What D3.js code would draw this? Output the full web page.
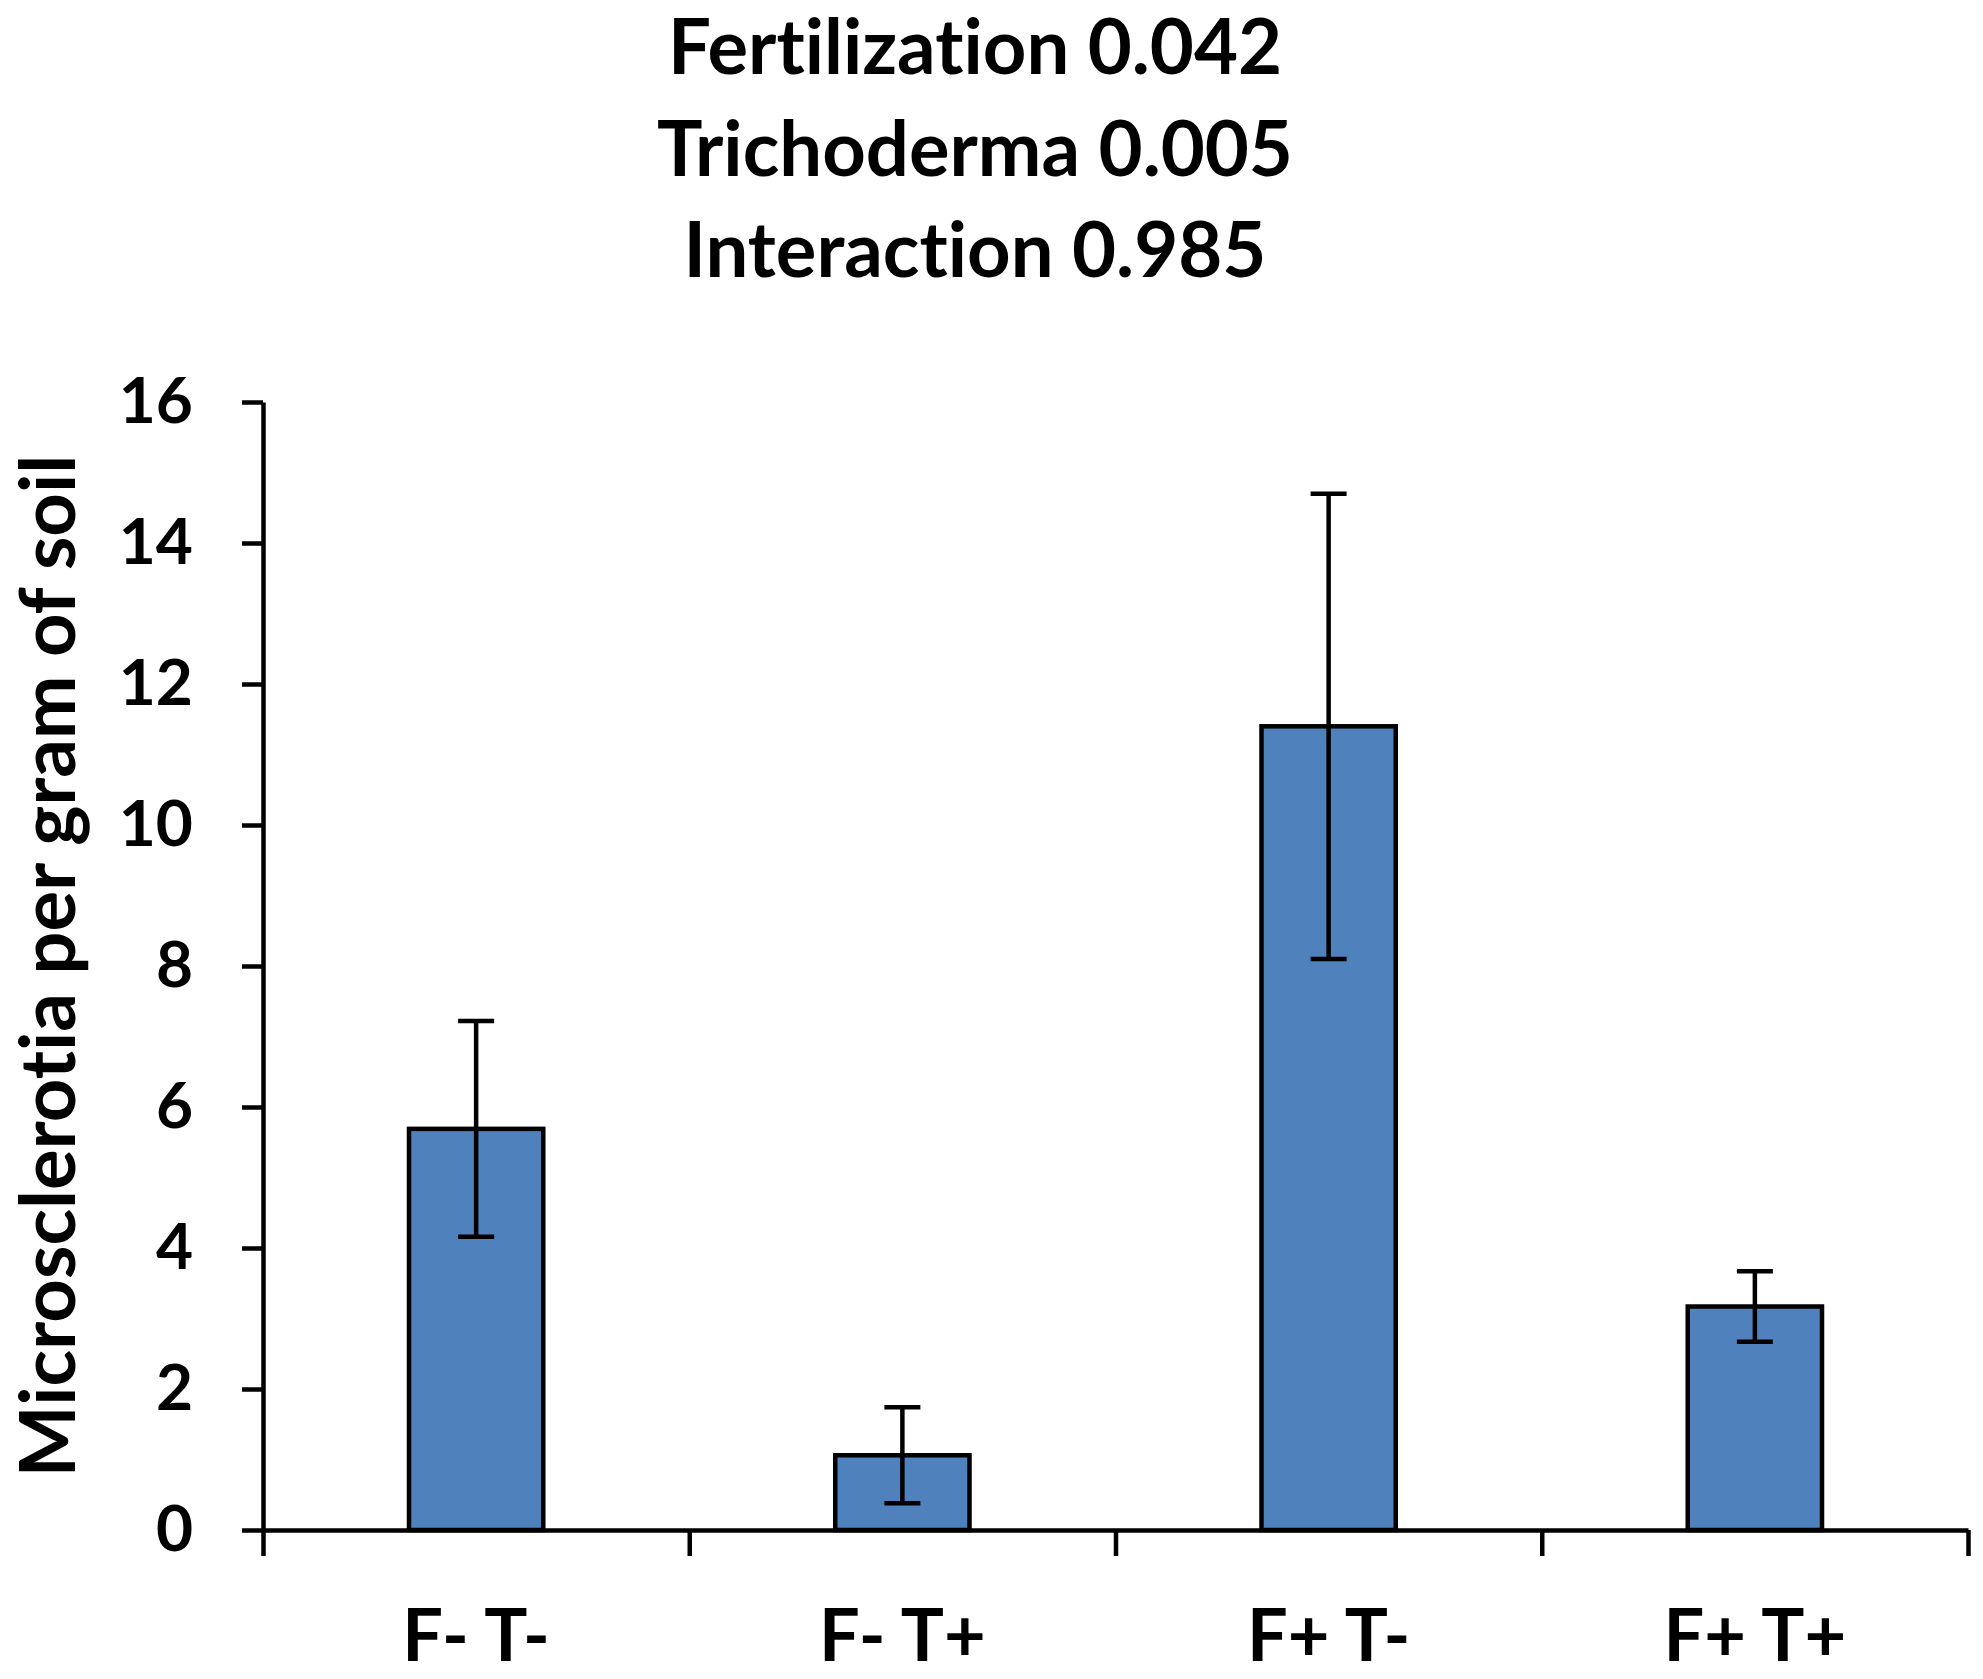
<!DOCTYPE html>
<html>
<head>
<meta charset="UTF-8">
<title>Microsclerotia per gram of soil</title>
<style>
    body { margin: 0; background: #fff; }
    text { font-family: Lato, "Open Sans", sans-serif; font-weight: bold; fill: #000; font-variant-ligatures: none; }
    .axis path, .axis line { stroke: #000; stroke-width: 4.5px; }
    .bar { fill: #4f81bd; stroke: #000; stroke-width: 4.5px; }
    .err { stroke: #000; stroke-width: 4.5px; fill: none; }
</style>
</head>
<body>
<svg width="1983" height="1679"></svg>
<script src="https://cdn.jsdelivr.net/npm/d3@7"></script>
<script>
    // data
    var categories = ["F- T-", "F- T+", "F+ T-", "F+ T+"];
    var means = [5.69, 1.06, 11.4, 3.17];
    var errors = [1.53, 0.68, 3.3, 0.5];
    var yTicks = [0, 2, 4, 6, 8, 10, 12, 14, 16];
    var titleLines = ["Fertilization 0.042", "Trichoderma 0.005", "Interaction 0.985"];
    var yLabel = "Microsclerotia per gram of soil";

    var svg = d3.select("svg");
    var plot = {left: 263, right: 1968, top: 402, bottom: 1530};

    var y = d3.scaleLinear().domain([0, 16]).range([plot.bottom, plot.top]);
    var x = d3.scaleBand().domain(categories).range([plot.left, plot.right]).padding(0);
    // edges of the categories, for the tick marks between them
    var xEdge = d3.scaleLinear().domain([0, categories.length]).range([plot.left, plot.right]);
    var barW = x.bandwidth() * 0.315;

    // title
    svg.append("g").selectAll("text")
        .data(titleLines)
        .enter().append("text")
        .attr("x", 975)
        .attr("y", function (d, i) { return 74 + i * 101.5; })
        .attr("text-anchor", "middle")
        .style("font-size", "76px")
        .text(function (d) { return d; });

    // bars
    svg.append("g").selectAll("rect")
        .data(means)
        .enter().append("rect")
        .attr("class", "bar")
        .attr("x", function (d, i) { return x(categories[i]) + x.bandwidth() / 2 - barW / 2; })
        .attr("y", function (d) { return y(d); })
        .attr("width", barW)
        .attr("height", function (d) { return y(0) - y(d); });

    // error bars
    var eg = svg.append("g").selectAll("g")
        .data(means)
        .enter().append("g")
        .attr("class", "err");
    var cx = function (d, i) { return x(categories[i]) + x.bandwidth() / 2; };
    eg.append("line")
        .attr("x1", cx).attr("x2", cx)
        .attr("y1", function (d, i) { return y(d + errors[i]); })
        .attr("y2", function (d, i) { return y(d - errors[i]); });
    eg.append("line")
        .attr("x1", function (d, i) { return cx(d, i) - 18; })
        .attr("x2", function (d, i) { return cx(d, i) + 18; })
        .attr("y1", function (d, i) { return y(d + errors[i]); })
        .attr("y2", function (d, i) { return y(d + errors[i]); });
    eg.append("line")
        .attr("x1", function (d, i) { return cx(d, i) - 18; })
        .attr("x2", function (d, i) { return cx(d, i) + 18; })
        .attr("y1", function (d, i) { return y(d - errors[i]); })
        .attr("y2", function (d, i) { return y(d - errors[i]); });

    // y axis
    var gy = svg.append("g")
        .attr("class", "axis")
        .attr("transform", "translate(" + plot.left + ",0)")
        .call(d3.axisLeft(y).tickValues(yTicks).tickSize(21).tickSizeOuter(0).tickPadding(49));
    gy.selectAll("text").style("font-size", "64px");

    // x axis: tick marks between categories
    svg.append("g")
        .attr("class", "axis")
        .attr("transform", "translate(0," + plot.bottom + ")")
        .call(d3.axisBottom(xEdge).tickValues(d3.range(categories.length + 1)).tickSize(26).tickSizeOuter(0).tickFormat(""));

    // x axis: category labels
    var gx = svg.append("g")
        .attr("class", "axis")
        .attr("transform", "translate(0," + plot.bottom + ")")
        .call(d3.axisBottom(x).tickSize(0));
    gx.select(".domain").remove();
    gx.selectAll("text")
        .attr("y", 131)
        .attr("dy", 0)
        .style("font-size", "72px");

    // y axis title
    svg.append("text")
        .attr("transform", "translate(75," + (plot.top + plot.bottom) / 2 + ") rotate(-90)")
        .attr("text-anchor", "middle")
        .style("font-size", "76px")
        .text(yLabel);
</script>
</body>
</html>
